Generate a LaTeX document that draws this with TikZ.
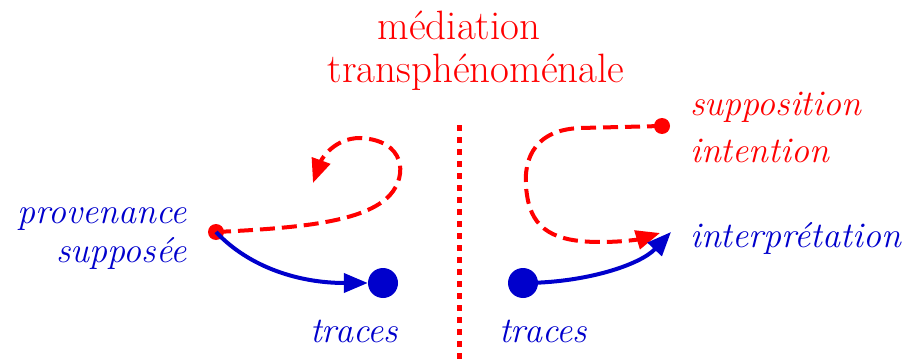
\documentclass[tikz,border=0pt]{standalone}
\usetikzlibrary{arrows.meta}
\definecolor{myred}{RGB}{255,0,0}
\definecolor{myblue}{RGB}{0,0,204}
\tikzset{
  lbl/.style={inner sep=0pt, font=\fontsize{36}{39}\selectfont\itshape},
  ttl/.style={inner sep=0pt, text=myred, font=\fontsize{41}{43}\selectfont},
  reddot/.style={circle, fill=myred, inner sep=0pt, minimum size=16pt},
  bluedot/.style={circle, fill=myblue, inner sep=0pt, minimum size=30pt},
  redpath/.style={myred, line width=4pt, dash pattern=on 15pt off 7pt, -{Triangle[length=24pt,width=19pt]}},
  bluepath/.style={myblue, line width=4pt, -{Triangle[length=24pt,width=19pt]}},
  sep/.style={myred, line width=5pt, dash pattern=on 6pt off 6pt}
}
\begin{document}
\begin{tikzpicture}[x=1pt,y=-1pt]
\useasboundingbox (0,0) rectangle (908,361);
% title
\node[ttl, anchor=base] (t1) at (459,40) {médiation};
\node[ttl, anchor=base] (t2) at (476,83) {transphénoménale};
% separator
\coordinate (s1) at (459,125);
\coordinate (s2) at (459,361);
\draw[sep] (s1) -- (s2);
% left labels
\node[lbl, text=myblue, anchor=base east] (prov) at (187,223) {provenance};
\node[lbl, text=myblue, anchor=base east] (supp) at (187,262) {supposée};
\node[lbl, text=myblue, anchor=base west] (trL) at (310,342) {traces};
% right labels
\node[lbl, text=myred, anchor=base west] (supn) at (690,115) {supposition};
\node[lbl, text=myred, anchor=base west] (intn) at (690,162) {intention};
\node[lbl, text=myblue, anchor=base west] (intp) at (690,247) {interprétation};
\node[lbl, text=myblue, anchor=base west] (trR) at (499,342) {traces};
% dots
\node[reddot] (rL) at (216,232) {};
\node[bluedot] (bL) at (383,283) {};
\node[reddot] (rR) at (662,126) {};
\node[bluedot] (bR) at (523,283) {};
\coordinate (endL) at (313,183);
\coordinate (endRr) at (660,233);
\coordinate (endRb) at (671,232);
% left connectors
\draw[redpath] (rL.center) .. controls (300,228) and (365,222) .. (390,195)
  .. controls (408,175) and (405,140) .. (360,138)
  .. controls (335,138) and (322,158) .. (endL);
\draw[bluepath] (rL.center) .. controls (250,268) and (300,283) .. (bL.west);
% right connectors
\draw[redpath] (rR.center) -- (580,128) .. controls (530,130) and (522,165) .. (527,195)
  .. controls (532,230) and (555,242) .. (600,242)
  .. controls (625,242) and (640,239) .. (endRr);
\draw[bluepath] (bR.center) .. controls (585,283) and (640,265) .. (endRb);
\end{tikzpicture}
\end{document}
